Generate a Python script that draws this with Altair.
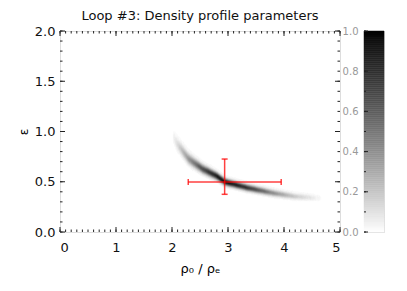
import altair as alt
import numpy as np
import pandas as pd

# ---- data ----
title_text = "Loop #3: Density profile parameters"
x_ticks = [0, 1, 2, 3, 4, 5]
y_ticks = [0.0, 0.5, 1.0, 1.5, 2.0]
cb_ticks = [0.0, 0.2, 0.4, 0.6, 0.8, 1.0]

# ridge of the probability density (centre line, peak level, vertical spread)
ridge_x = [2.0, 2.1, 2.3, 2.55, 2.8, 2.95, 3.35, 3.8, 4.2, 4.7]
ridge_y = [0.97, 0.875, 0.73, 0.63, 0.56, 0.5, 0.442, 0.39, 0.355, 0.335]
ridge_peak = [0.0, 0.12, 0.38, 0.68, 0.92, 1.0, 0.8, 0.42, 0.18, 0.0]
ridge_sigma = [0.042, 0.039, 0.034, 0.028, 0.024, 0.022, 0.021, 0.02, 0.019, 0.019]

# best fit with error bars
fit_x = [2.94]
fit_y = [0.497]
fit_xlo = [2.29]
fit_xhi = [3.95]
fit_ylo = [0.375]
fit_yhi = [0.726]

# ---- build tables ----
W, H = 280, 201
dx, dy = 0.02, 0.01
xs_c = np.arange(1.9, 4.8, dx)
ys_c = np.arange(0.2, 1.1, dy)
rows = []
for xc in xs_c:
    cx = xc + dx / 2
    yc = np.interp(cx, ridge_x, ridge_y)
    pk = np.interp(cx, ridge_x, ridge_peak)
    sg = np.interp(cx, ridge_x, ridge_sigma)
    for yv in ys_c:
        cy = yv + dy / 2
        v = pk * np.exp(-0.5 * ((cy - yc) / sg) ** 2)
        if v > 0.012:
            rows.append({"x0": xc, "x1": xc + dx, "y0": yv, "y1": yv + dy, "v": min(v, 1.0)})
dens = pd.DataFrame(rows)

fit = pd.DataFrame({"x": fit_x, "y": fit_y, "xlo": fit_xlo, "xhi": fit_xhi,
                    "ylo": fit_ylo, "yhi": fit_yhi})

xs = alt.Scale(domain=[0, 5], nice=False, zero=False)
ys = alt.Scale(domain=[0, 2], nice=False, zero=False)
gray = alt.Scale(domain=[0, 1], range=["#ffffff", "#000000"])
FONT = "DejaVu Sans"

XA = alt.Axis(values=x_ticks, format="d", ticks=False, domain=False, grid=False,
              labelPadding=9, labelFontSize=13, labelFont=FONT, labelColor="#111",
              title="ρ₀ / ρₑ", titleFont=FONT, titleFontSize=13, titleFontWeight="normal",
              titlePadding=8)
YA = alt.Axis(values=y_ticks, format=".1f", ticks=False, domain=False, grid=False,
              labelPadding=5, labelFontSize=13, labelFont=FONT, labelColor="#111",
              title="ε", titleFont=FONT, titleFontSize=12, titleFontWeight="normal",
              titlePadding=4)

def X(f):
    return alt.X(f, scale=xs, axis=XA)

def Y(f):
    return alt.Y(f, scale=ys, axis=YA)

base_rect = alt.Chart(dens).mark_rect(strokeWidth=0.4).encode(
    x=X("x0:Q"), x2="x1:Q", y=Y("y0:Q"), y2="y1:Q",
    color=alt.Color("v:Q", scale=gray, legend=None),
    stroke=alt.Stroke("v:Q", scale=gray, legend=None),
)

RED = "#ff0000"
hbar = alt.Chart(fit).mark_rule(color=RED, strokeWidth=1.5, opacity=0.75).encode(
    x=X("xlo:Q"), x2="xhi:Q", y=Y("y:Q"))
vbar = alt.Chart(fit).mark_rule(color=RED, strokeWidth=1.5, opacity=0.75).encode(
    x=X("x:Q"), y=Y("ylo:Q"), y2="yhi:Q")
capx = alt.Chart(fit).transform_fold(["xlo", "xhi"], as_=["k", "xc"]).mark_tick(
    color=RED, thickness=1.5, size=6, orient="vertical", opacity=0.75).encode(
    x=X("xc:Q"), y=Y("y:Q"))
capy = alt.Chart(fit).transform_fold(["ylo", "yhi"], as_=["k", "yc"]).mark_tick(
    color=RED, thickness=1.5, size=6, orient="horizontal", opacity=0.75).encode(
    x=X("x:Q"), y=Y("yc:Q"))

# inward tick marks (IDL style)
xmaj = pd.DataFrame({"v": x_ticks})
xmin = pd.DataFrame({"v": [round(i * 0.1, 2) for i in range(51)]})
ymaj = pd.DataFrame({"v": y_ticks})
ymin = pd.DataFrame({"v": [round(i * 0.1, 2) for i in range(21)]})

def xtick_layers(df, ln):
    bot = alt.Chart(df).mark_rule(color="#222", strokeWidth=1).encode(
        x=X("v:Q"), y=alt.value(H), y2=alt.value(H - ln))
    top = alt.Chart(df).mark_rule(color="#222", strokeWidth=1).encode(
        x=X("v:Q"), y=alt.value(0), y2=alt.value(ln))
    return [bot, top]

def ytick_layers(df, ln):
    left = alt.Chart(df).mark_rule(color="#222", strokeWidth=1).encode(
        y=Y("v:Q"), x=alt.value(0), x2=alt.value(ln))
    right = alt.Chart(df).mark_rule(color="#222", strokeWidth=1).encode(
        y=Y("v:Q"), x=alt.value(W), x2=alt.value(W - ln))
    return [left, right]

ticks = xtick_layers(xmaj, 5) + xtick_layers(xmin, 2.5) + ytick_layers(ymaj, 5) + ytick_layers(ymin, 2.5)

main = alt.layer(base_rect, hbar, vbar, capx, capy, *ticks).properties(
    width=W, height=H,
    title=alt.TitleParams(title_text, font=FONT, fontSize=13, fontWeight="normal",
                          color="#111", anchor="middle", frame="group", offset=2))

# colour bar
cb_lo = [round(i * 0.01, 2) for i in range(100)]
cb = pd.DataFrame({"lo": cb_lo, "hi": [v + 0.01 for v in cb_lo], "mid": [v + 0.005 for v in cb_lo]})
cbs = alt.Scale(domain=[0, 1], nice=False, zero=False)
CBA = alt.Axis(values=cb_ticks, format=".1f", ticks=False, domain=False, grid=False,
               labelPadding=6, labelFontSize=10, labelFont=FONT, labelColor="#999999", title=None)
cb_rect = alt.Chart(cb).mark_rect(strokeWidth=0.5).encode(
    y=alt.Y("lo:Q", scale=cbs, axis=CBA),
    y2="hi:Q", x=alt.value(0), x2=alt.value(20),
    color=alt.Color("mid:Q", scale=gray, legend=None),
    stroke=alt.Stroke("mid:Q", scale=gray, legend=None))
cbmaj = pd.DataFrame({"v": cb_ticks})
cbmin = pd.DataFrame({"v": [round(i * 0.1, 2) for i in range(11)]})
cb_t1 = alt.Chart(cbmaj).mark_rule(color="#222").encode(
    y=alt.Y("v:Q", scale=cbs, axis=CBA), x=alt.value(0), x2=alt.value(4))
cb_t2 = alt.Chart(cbmin).mark_rule(color="#222").encode(
    y=alt.Y("v:Q", scale=cbs, axis=CBA), x=alt.value(0), x2=alt.value(2))
colorbar = alt.layer(cb_rect, cb_t1, cb_t2).properties(width=20, height=H)

chart = alt.hconcat(main, colorbar, spacing=24, bounds="flush").properties(
    padding={"left": 8, "top": 1, "right": 5, "bottom": 5}
).configure_view(stroke="#111", strokeWidth=1.2).configure(background="white")

chart.save("out.html", embed_options={"renderer": "svg", "actions": False})
